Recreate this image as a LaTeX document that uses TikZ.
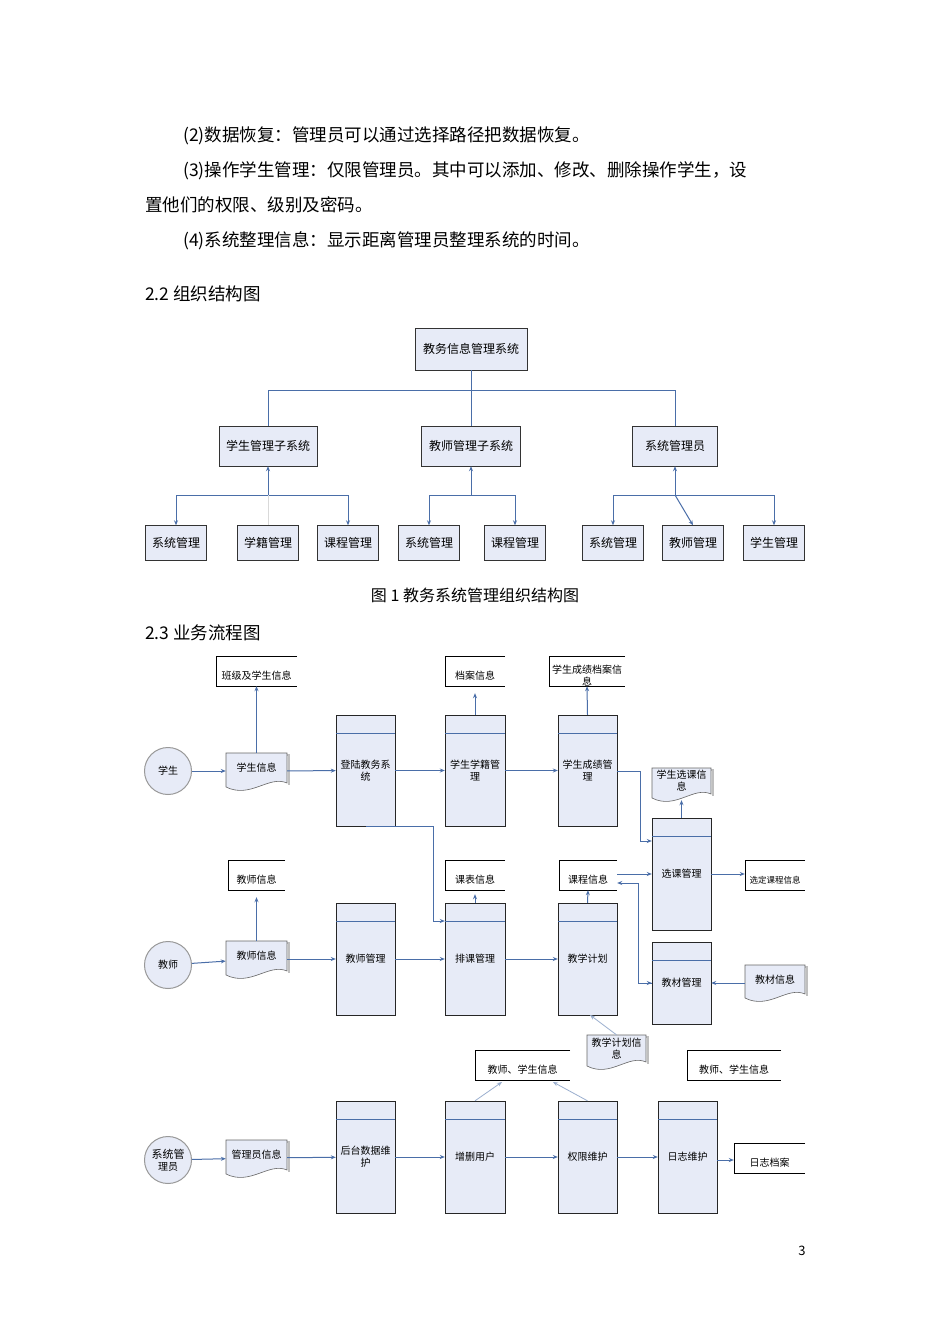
\documentclass[tikz,border=0pt]{standalone}
\usepackage{fontspec}
\setmainfont{Noto Sans CJK SC}
\usetikzlibrary{arrows.meta,calc}
\definecolor{ln}{RGB}{74,110,168}
\definecolor{bx}{RGB}{231,235,247}
\tikzset{
 x=1pt,y=-1pt,
 body/.style={anchor=base west,inner sep=0,font=\fontsize{17.5}{20}\selectfont},
 obox/.style={draw=black!80,fill=bx,inner sep=0,font=\fontsize{12}{14}\selectfont},
 fl/.style={draw=ln,line width=1pt},
 arr/.style={fl,-{Stealth[length=5pt,width=4pt]}},
 thin arr/.style={draw=ln!55,line width=0.8pt,-{Stealth[length=5pt,width=4pt]}},
 lbl/.style={inner sep=0,align=center,font=\fontsize{10}{12}\selectfont},
 pbox/.style={draw=black!85,fill=bx,line width=0.8pt},
}
% process box: name x1 y1 x2 y2 text
\newcommand\proc[6]{%
 \draw[pbox] (#2,#3) rectangle (#4,#5);
 \draw[draw=ln,line width=1pt] (#2,{#3+18}) -- (#4,{#3+18});
 \node[lbl,minimum width={(#4-#2)*1pt},minimum height={(#5-#3)*1pt}] (#1) at ({(#2+#4)/2},{(#3+#5)/2}) {#6};}
% document: name x1 y1 x2 y2 text
\newcommand\doc[6]{%
 \draw[draw=black!25,line width=1.2pt] ({#2+2},{#3+2}) -- ({#4+2},{#3+2}) -- ({#4+2},{#5-4});
 \draw[draw=black!60,fill=bx,line width=0.6pt] (#2,#3) -- (#4,#3) -- (#4,{#5-6}) .. controls ({#4-(#4-#2)*0.3},{#5-14}) and ({#2+(#4-#2)*0.4},{#5+10}) .. (#2,{#5-2}) -- cycle;
 \node[lbl,minimum width={(#4-#2)*1pt},minimum height={(#5-#3)*1pt}] (#1) at ({(#2+#4)/2},{(#3+#5)/2}) {};
 \node[lbl] at ({(#2+#4)/2},{(#3+#5)/2-3}) {#6};}
% store: name x1 y1 x2 y2 text
\newcommand\store[6]{%
 \draw[black,line width=1pt] (#4,#3) -- (#2,#3) -- (#2,#5) -- (#4,#5);
 \node[lbl,minimum width={(#4-#2)*1pt},minimum height={(#5-#3)*1pt}] (#1) at ({(#2+#4)/2},{(#3+#5)/2}) {};
 \node[lbl] at ({(#2+#4)/2},{(#3+#5)/2+5}) {#6};}
% actor circle
\newcommand\actor[4]{%
 \node[draw=black!40,fill=bx,circle,minimum size=47pt,inner sep=0,lbl,line width=1pt] (#1) at (#2,#3) {#4};}
\begin{document}
\begin{tikzpicture}
\useasboundingbox[fill=white] (0,0) rectangle (950,1344);
% body text
\node[body] at (183,141) {(2)数据恢复：管理员可以通过选择路径把数据恢复。};
\node[body] at (183,176) {(3)操作学生管理：仅限管理员。其中可以添加、修改、删除操作学生，设};
\node[body] at (145,211) {置他们的权限、级别及密码。};
\node[body] at (183,246) {(4)系统整理信息：显示距离管理员整理系统的时间。};
\node[body] at (145,300) {2.2 组织结构图};
\node[body] at (145,639) {2.3 业务流程图};
\node[anchor=base,inner sep=0,font=\fontsize{16}{18}\selectfont] at (475,601) {图 1 教务系统管理组织结构图};
\node[anchor=base,inner sep=0,font=\fontsize{13}{14}\selectfont] at (802,1255) {3};
% org chart
\node[obox,minimum width=112pt,minimum height=42pt] (top) at (471,349) {教务信息管理系统};
\node[obox,minimum width=98pt,minimum height=40pt] (s1) at (268,446) {学生管理子系统};
\node[obox,minimum width=99pt,minimum height=40pt] (s2) at (471,446) {教师管理子系统};
\node[obox,minimum width=85pt,minimum height=40pt] (s3) at (675,446) {系统管理员};
\foreach \n/\x/\t in {a1/176/系统管理,a2/268/学籍管理,a3/348/课程管理,b1/429/系统管理,b2/515/课程管理,c1/613/系统管理,c2/693/教师管理,c3/774/学生管理}
 \node[obox,minimum width=61pt,minimum height=35pt] (\n) at (\x,543) {\t};
\coordinate (bus) at (471,390);
\draw[fl] (top.south) -- (bus);
\draw[fl] (s1.north) |- (s3.north |- bus) -- (s3.north);
\draw[fl] (s2.north) -- (bus);
\foreach \s/\l/\r in {s1/a1/a3,s2/b1/b2,s3/c1/c3}{
 \coordinate (j\s) at (\s.south |- 0,495);
 \draw[arr] (j\s) -- (\s.south);
 \draw[arr] (j\s) -| (\l.north);
 \draw[arr] (j\s) -| (\r.north);}
\draw[arr] (js3) -- (c2.north);
\draw[draw=black!15,line width=1pt] (js1) -- (a2.north);
% ---- flowchart row 1
\actor{stu}{168}{771}{学生}
\doc{d1}{226}{753}{287}{789}{学生信息}
\proc{p11}{336}{715}{395}{826}{登陆教务系\\统}
\proc{p12}{445}{715}{505}{826}{学生学籍管\\理}
\proc{p13}{558}{715}{617}{826}{学生成绩管\\理}
\store{st11}{216}{656}{297}{686}{班级及学生信息}
\store{st12}{445}{656}{505}{686}{档案信息}
\draw[black,line width=1pt] (625,656) -- (549,656) -- (549,686) -- (625,686);
\node[lbl,minimum width=76pt,minimum height=30pt] (st13) at (587,671) {};
\node[lbl] at (587,676) {学生成绩档案信\\息};
\proc{pxk}{652}{818}{711}{930}{选课管理}
\doc{dxk}{652}{768}{711}{800}{学生选课信\\息}
\store{stxd}{745}{860}{805}{890}{\fontsize{8.5}{10}\selectfont 选定课程信息}
\draw[arr] (stu) -- (d1);
\draw[arr] (d1) -- (p11);
\draw[arr] (p11) -- (p12);
\draw[arr] (p12) -- (p13);
\draw[arr] (d1.north) -- (st11.south);
\draw[arr] (p12.north) -- ($(st12.south)+(0,7)$);
\draw[arr] (p13.north) -- (st13.south);
\coordinate (k1) at (640,771);
\draw[arr] (p13.east |- k1) -- (k1) |- (pxk.west |- 0,841);
\draw[arr] (pxk.north) -- (dxk.south);
\draw[arr] (pxk.east |- 0,874) -- (stxd.west |- 0,874);
% ---- row 2
\actor{tea}{168}{965}{教师}
\doc{d2}{226}{941}{287}{977}{教师信息}
\proc{p21}{336}{903}{395}{1015}{教师管理}
\proc{p22}{445}{903}{505}{1015}{排课管理}
\proc{p23}{558}{903}{617}{1015}{教学计划}
\store{st21}{228}{860}{285}{890}{教师信息}
\store{st22}{445}{860}{505}{890}{课表信息}
\store{st23}{559}{860}{617}{890}{课程信息}
\proc{pjc}{652}{942}{711}{1024}{教材管理}
\doc{djc}{745}{965}{805}{1000}{教材信息}
\doc{djh}{587}{1035}{646}{1068}{教学计划信\\息}
\draw[arr] (tea) -- (d2);
\draw[arr] (d2) -- (p21);
\draw[arr] (p21) -- (p22);
\draw[arr] (p22) -- (p23);
\draw[arr] (d2.north) -- ($(st21.south)+(0,7)$);
\draw[arr] (p22.north) -- ($(st22.south)+(0,4)$);
\draw[arr] (p23.north) -- (st23.south);
\coordinate (k2) at (433,826);
\draw[arr] (366,826) -- (k2) |- (p22.west |- 0,921);
\draw[arr] (st23.east |- 0,874) -- (pxk.west |- 0,874);
\coordinate (k3) at (638,883);
\draw[arr] (pjc.west |- 0,983) -| (k3) -- (st23.east |- k3);
\draw[arr] (638,983) -- (pjc.west |- 0,983);
\draw[arr] (djc.west |- 0,983) -- (pjc.east |- 0,983);
\draw[thin arr] (djh.north) -- (590,1015);
% ---- row 3
\actor{adm}{168}{1160}{\fontsize{11}{14}\selectfont 系统管\\理员}
\doc{d3}{226}{1140}{287}{1176}{管理员信息}
\proc{p31}{336}{1101}{395}{1213}{后台数据维\\护}
\proc{p32}{445}{1101}{505}{1213}{增删用户}
\proc{p33}{558}{1101}{617}{1213}{权限维护}
\proc{p34}{658}{1101}{717}{1213}{日志维护}
\store{st31}{475}{1050}{570}{1080}{教师、学生信息}
\store{st32}{687}{1050}{781}{1080}{教师、学生信息}
\store{st33}{734}{1143}{805}{1173}{日志档案}
\draw[arr] (adm) -- (d3);
\draw[arr] (d3) -- (p31);
\draw[arr] (p31) -- (p32);
\draw[arr] (p32) -- (p33);
\draw[arr] (p33) -- (p34);
\draw[arr] (p34.east |- 0,1160) -- (st33.west |- 0,1160);
\draw[thin arr] (p32.north) -- (502,1082);
\draw[thin arr] (p33.north) -- (553,1082);
\end{tikzpicture}
\end{document}
